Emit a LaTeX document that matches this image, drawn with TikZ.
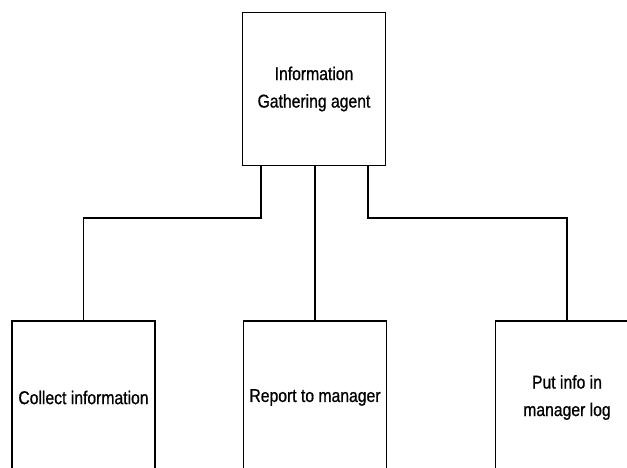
\documentclass[tikz,border=0pt]{standalone}
\usepackage{fontspec}
\setmainfont{Liberation Sans}[FakeStretch=0.85,FakeBold=0.8]
\begin{document}
\begin{tikzpicture}[x=1pt,y=-1pt,
  box/.style={draw=black, line width=1.3pt, fill=white, inner sep=0pt,
    minimum width=143pt, minimum height=153pt, align=center,
    font=\fontsize{18.5}{27.5}\selectfont},
  link/.style={draw=black, line width=1.3pt}]
  % page area; the right-hand and lower boxes run past its edges
  \clip (0,0) rectangle (627,468);
  \fill[white] (0,0) rectangle (627,468);

  \node[box] (agent) at (314,89) {Information\\Gathering agent};
  \node[box] (collect) at (83.5,397.5) {Collect information};
  \node[box] (report) at (315,397.5) {Report to manager};
  \node[box] (log) at (567,397.5) {Put info in\\manager log};

  % branches from the agent box down to its three tasks
  \draw[link] ([xshift=-53pt]agent.south) -- ++(0,52) -| (collect.north);
  \draw[link] (agent.south -| report.north) -- (report.north);
  \draw[link] ([xshift=54pt]agent.south) -- ++(0,52) -| (log.north);
\end{tikzpicture}
\end{document}
